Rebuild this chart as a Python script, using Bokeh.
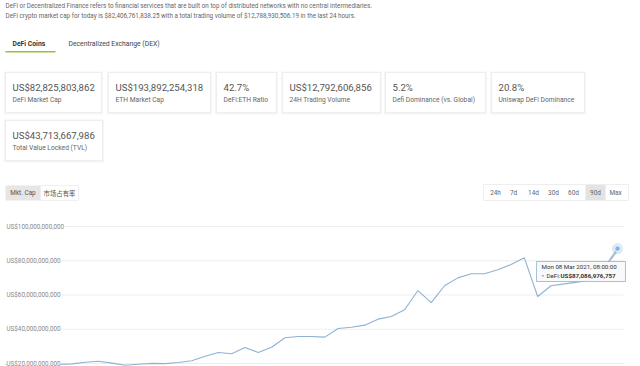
import pandas as pd
from bokeh.plotting import figure
from bokeh.layouts import column
from bokeh.models import Range1d, ColumnDataSource, Label
from bokeh.core.properties import value
from bokeh.embed import file_html
from bokeh.resources import INLINE

# ---------------- data ----------------
intro_lines = [
    "DeFi or Decentralized Finance refers to financial services that are built on top of distributed networks with no central intermediaries.",
    "DeFi crypto market cap for today is $82,406,761,838.25 with a total trading volume of $12,788,930,506.19 in the last 24 hours.",
]
tab_labels = ["DeFi Coins", "Decentralized Exchange (DEX)"]
card_values = ["US$82,825,803,862", "US$193,892,254,318", "42.7%", "US$12,792,606,856",
               "5.2%", "20.8%", "US$43,713,667,986"]
card_labels = ["DeFi Market Cap", "ETH Market Cap", "DeFi:ETH Ratio", "24H Trading Volume",
               "Defi Dominance (vs. Global)", "Uniswap DeFi Dominance", "Total Value Locked (TVL)"]
metric_buttons = ["Mkt. Cap", "市场占有率"]
range_buttons = ["24h", "7d", "14d", "30d", "60d", "90d", "Max"]
active_range = "90d"

dates = pd.date_range(end="2021-03-08 08:00", periods=47, freq="2D")
defi_cap_billion = [19.4, 19.4, 19.3, 19.3, 19.4, 19.8, 20.7, 21.3, 20.2, 19.0,
                    19.6, 20.1, 19.9, 20.6, 21.6, 24.2, 26.4, 25.7, 29.3, 26.4,
                    29.5, 35.0, 35.8, 35.8, 35.4, 40.4, 41.2, 42.4, 45.9, 47.4,
                    51.4, 62.6, 55.6, 65.4, 70.0, 72.4, 72.4, 74.7, 77.8, 81.7,
                    59.1, 65.4, 66.5, 67.5, 69.0, 76.0, 87.086976757]
y_ticks = [20e9, 40e9, 60e9, 80e9, 100e9]
y_tick_labels = ["US$20,000,000,000", "US$40,000,000,000", "US$60,000,000,000",
                 "US$80,000,000,000", "US$100,000,000,000"]
tooltip_title = "Mon 08 Mar 2021, 08:00:00"
tooltip_series = "DeFi: "
tooltip_value = "US$87,086,976,757"

FONT_NAME = "Roboto"
FONT = value(FONT_NAME)
CJK = value("Noto Sans CJK SC")
LINE_COLOR = "#8fb2d2"

# ---------------- top part (page header, cards, buttons) ----------------
W = 640
TOP_H = 215
top = figure(width=W, height=TOP_H, x_range=Range1d(0, W), y_range=Range1d(TOP_H, 0),
             toolbar_location=None, output_backend="svg", min_border=0,
             x_axis_location=None, y_axis_location=None, outline_line_color=None)
top.grid.visible = False

top.text(x=[5, 5], y=[5.5, 15], text=intro_lines, text_font=FONT, text_font_size="6.3px",
         text_color="#666666", text_baseline="middle")

top.text(x=[12], y=[43], text=[tab_labels[0]], text_font=FONT, text_font_size="6.8px",
         text_font_style="bold", text_color="#333333", text_baseline="middle")
top.text(x=[68], y=[43], text=[tab_labels[1]], text_font=FONT, text_font_size="6.8px",
         text_color="#444444", text_baseline="middle")
top.quad(left=[5], right=[55], top=[50.5], bottom=[52], fill_color="#8dc63f", line_color=None)

card_boxes = [(5, 101, 72, 112), (108, 210, 72, 112), (216, 276, 72, 112), (282, 380, 72, 112),
              (385, 485, 72, 112), (491, 584, 72, 112), (5, 102, 120, 160)]
for (l, r, t, b) in card_boxes:
    top.quad(left=[l - 1.5], right=[r + 1.5], top=[t - 1], bottom=[b + 2],
             fill_color="#f5f5f5", line_color=None)
    top.quad(left=[l], right=[r], top=[t], bottom=[b], fill_color="white", line_color="#eeeeee")
top.text(x=[b[0] + 7 for b in card_boxes], y=[b[2] + 15 for b in card_boxes], text=card_values,
         text_font=FONT, text_font_size="9.6px", text_color="#555555", text_baseline="middle")
top.text(x=[b[0] + 7 for b in card_boxes], y=[b[2] + 27 for b in card_boxes], text=card_labels,
         text_font=FONT, text_font_size="6.7px", text_color="#666666", text_baseline="middle")

# metric buttons
top.quad(left=[5], right=[40], top=[185], bottom=[200], fill_color="#e6e6e6", line_color=None)
top.quad(left=[40], right=[78], top=[185], bottom=[200], fill_color="white", line_color="#f0f0f0")
top.text(x=[22.5], y=[192.5], text=[metric_buttons[0]], text_font=FONT, text_font_size="6.4px",
         text_color="#555555", text_baseline="middle", text_align="center")
top.text(x=[59], y=[192.5], text=[metric_buttons[1]], text_font=CJK, text_font_size="6.4px",
         text_color="#555555", text_baseline="middle", text_align="center")

# range buttons
top.quad(left=[483], right=[628], top=[184], bottom=[200], fill_color="white", line_color="#eeeeee")
btn_x = [495, 513, 533, 553, 573, 595, 615]
ai = range_buttons.index(active_range)
top.quad(left=[btn_x[ai] - 10], right=[btn_x[ai] + 10], top=[184.5], bottom=[199.5],
         fill_color="#e3e3e3", line_color=None)
top.text(x=btn_x, y=[192.5] * len(btn_x), text=range_buttons, text_font=FONT,
         text_font_size="6.4px", text_color="#666666", text_baseline="middle", text_align="center")

# ---------------- chart ----------------
CH_H = 366 - TOP_H
x0_ms = dates[0].value / 1e6
x1_ms = dates[-1].value / 1e6
first_px, last_px = 5.0, 617.0
ms_per_px = (x1_ms - x0_ms) / (last_px - first_px)
xr = Range1d(x0_ms - first_px * ms_per_px, x1_ms + (W - last_px) * ms_per_px)
# page y 226 -> 100B, 363 -> 20B ; chart top is page y 215
b_per_px = 80e9 / (363 - 226)
ytop = 100e9 + (226 - TOP_H) * b_per_px
ybot = 20e9 - (366 - 363) * b_per_px
yr = Range1d(ybot, ytop)

def px_x(px):
    return xr.start + px * ms_per_px

def px_y(py):
    return ytop - (py - TOP_H) * b_per_px

ch = figure(width=W, height=CH_H, x_axis_type="datetime", x_range=xr, y_range=yr,
            toolbar_location=None, output_backend="svg", min_border=0,
            x_axis_location=None, y_axis_location=None, outline_line_color=None)
ch.grid.visible = False

ch.segment(x0=[px_x(8)] * len(y_ticks), x1=[px_x(623)] * len(y_ticks), y0=y_ticks, y1=y_ticks,
           line_color="#eeeeee", line_width=1)

src = ColumnDataSource(dict(x=dates, y=[v * 1e9 for v in defi_cap_billion]))
ch.line("x", "y", source=src, line_color=LINE_COLOR, line_width=1.1)

for t, lab in zip(y_ticks, y_tick_labels):
    ch.add_layout(Label(x=px_x(6), y=t, text=lab, text_font=FONT_NAME, text_font_size="6.3px",
                        text_color="#888888", text_baseline="middle",
                        background_fill_color="white", background_fill_alpha=1.0))

# hover marker on last point
ch.scatter(x=[dates[-1]], y=[defi_cap_billion[-1] * 1e9], size=11, fill_color=LINE_COLOR,
           fill_alpha=0.3, line_color=None)
ch.scatter(x=[dates[-1]], y=[defi_cap_billion[-1] * 1e9], size=5.5, fill_color="#7cb5ec",
           line_color="white", line_width=0.8)

# tooltip
ch.segment(x0=[px_x(608)], y0=[px_y(262)], x1=[px_x(616)], y1=[px_y(252)],
           line_color=LINE_COLOR, line_width=1)
ch.quad(left=[px_x(536)], right=[px_x(625)], top=[px_y(261)], bottom=[px_y(281)],
        fill_color="#f9f9f9", fill_alpha=0.95, line_color=LINE_COLOR, line_width=0.8)
ch.text(x=[px_x(541)], y=[px_y(266.5)], text=[tooltip_title], text_font=FONT,
        text_font_size="6.2px", text_color="#333333", text_baseline="middle")
ch.text(x=[px_x(541)], y=[px_y(275)], text=["\u25cf"], text_font=FONT,
        text_font_size="4.5px", text_color="#7cb5ec", text_baseline="middle")
ch.text(x=[px_x(546)], y=[px_y(275)], text=[tooltip_series], text_font=FONT,
        text_font_size="6.2px", text_color="#333333", text_baseline="middle")
ch.text(x=[px_x(560)], y=[px_y(275)], text=[tooltip_value], text_font=FONT,
        text_font_size="6.2px", text_font_style="bold", text_color="#333333",
        text_baseline="middle")

layout = column(top, ch, spacing=0)
open("out.html", "w").write(file_html(layout, INLINE))
